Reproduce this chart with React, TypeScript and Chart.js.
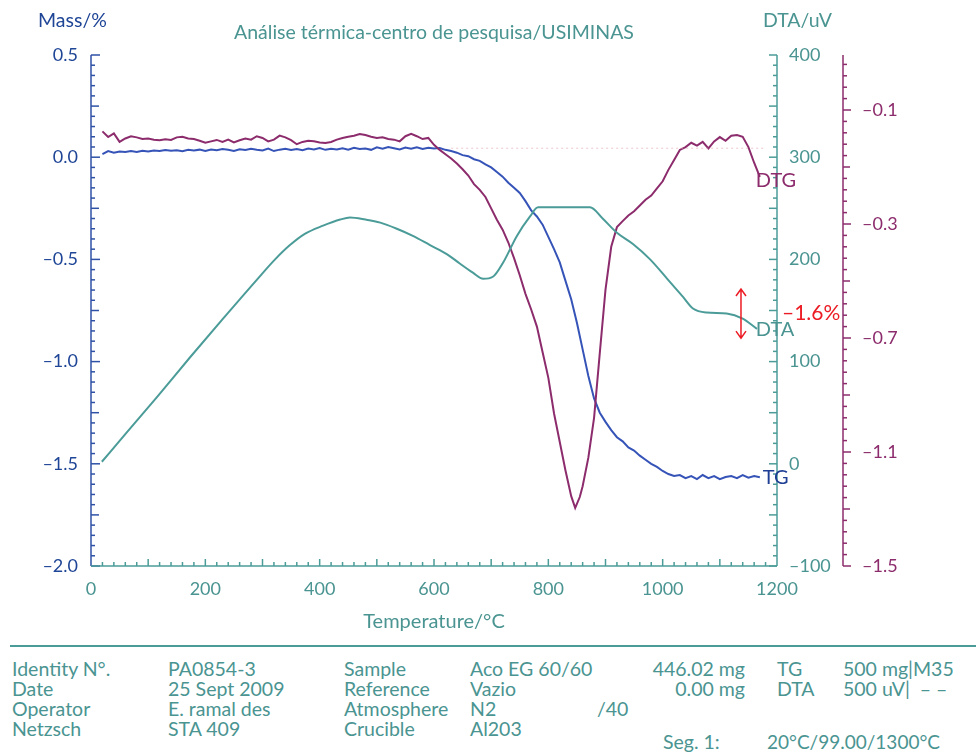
import React, { useEffect, useRef } from "react";
import { Chart, registerables } from "chart.js";

Chart.register(...registerables);

const FONT = "Lato, 'Open Sans', sans-serif";
const BLUE_TEXT = "#1f4596";
const BLUE_AXIS = "#2f52a6";
const TG_COLOR = "#3654b8";
const TEAL = "#4b9c98";
const TEAL_TEXT = "#4a9491";
const PURPLE = "#8c2c6c";
const RED = "#ec1c24";

// ---------- data ----------
const tgTemp = [
  20, 30, 40, 50, 60, 70, 80, 90, 100, 110, 120, 130, 140, 150, 160, 170, 180, 190, 200,
  210, 220, 230, 240, 250, 260, 270, 280, 290, 300, 310, 320, 330, 340, 350, 360, 370, 380,
  390, 400, 410, 420, 430, 440, 450, 460, 470, 480, 490, 500, 510, 520, 530, 540, 550, 560,
  570, 580, 590, 600, 610, 620, 630, 640, 650, 660, 670, 680, 690, 700, 710, 720, 730, 740,
  750, 760, 770, 780, 790, 800, 810, 820, 830, 840, 850, 860, 870, 880, 890, 900, 910, 920,
  930, 940, 950, 960, 970, 980, 990, 1000, 1010, 1020, 1030, 1040, 1050, 1060, 1070, 1080,
  1090, 1100, 1110, 1120, 1130, 1140, 1150, 1160, 1170,
];
const tgMass = [
  0.015, 0.03, 0.022, 0.028, 0.025, 0.03, 0.026, 0.032, 0.028, 0.033, 0.03, 0.035, 0.031,
  0.034, 0.029, 0.036, 0.033, 0.037, 0.031, 0.038, 0.034, 0.04, 0.036, 0.03, 0.039, 0.035,
  0.041, 0.036, 0.033, 0.042, 0.03, 0.037, 0.041, 0.035, 0.04, 0.034, 0.042, 0.038, 0.045,
  0.036, 0.041, 0.038, 0.044, 0.037, 0.046, 0.04, 0.043, 0.036, 0.048, 0.041, 0.05, 0.044,
  0.038, 0.047, 0.042, 0.049, 0.04, 0.046, 0.043, 0.045, 0.036, 0.03, 0.022, 0.01, 0.005,
  -0.01, -0.018, -0.035, -0.05, -0.072, -0.095, -0.125, -0.15, -0.175, -0.215, -0.26, -0.29,
  -0.33, -0.39, -0.45, -0.515, -0.605, -0.695, -0.81, -0.94, -1.07, -1.18, -1.25, -1.295,
  -1.335, -1.37, -1.39, -1.42, -1.435, -1.46, -1.48, -1.5, -1.515, -1.535, -1.55, -1.56,
  -1.555, -1.57, -1.56, -1.575, -1.555, -1.57, -1.56, -1.575, -1.565, -1.56, -1.57, -1.555,
  -1.568, -1.56, -1.566,
];

const dtgTemp = [
  20, 30, 40, 50, 60, 70, 80, 90, 100, 110, 120, 130, 140, 150, 160, 170, 180, 190, 200,
  210, 220, 230, 240, 250, 260, 270, 280, 290, 300, 310, 320, 330, 340, 350, 360, 370, 380,
  390, 400, 410, 420, 430, 440, 450, 460, 470, 480, 490, 500, 510, 520, 530, 540, 550, 560,
  570, 580, 590, 600, 610, 620, 630, 640, 650, 660, 670, 680, 690, 700, 710, 720, 730, 740,
  750, 760, 770, 780, 790, 800, 810, 820, 830, 840, 847, 855, 860, 870, 880, 890, 900, 910,
  920, 930, 940, 950, 960, 970, 980, 990, 1000, 1010, 1020, 1030, 1040, 1050, 1060, 1070,
  1080, 1090, 1100, 1110, 1120, 1130, 1140, 1150, 1160, 1170,
];
const dtgValue = [
  0.025, 0.005, 0.018, -0.012, 0.0, 0.008, 0.004, -0.002, 0.0, -0.004, -0.006, -0.003,
  -0.005, 0.004, 0.006, 0.0, -0.002, -0.008, -0.015, -0.01, -0.005, -0.012, -0.004, -0.014,
  -0.006, 0.0, -0.004, 0.008, 0.002, -0.01, -0.004, 0.01, 0.004, -0.006, -0.02, -0.012,
  -0.008, -0.01, -0.014, -0.016, -0.012, -0.004, 0.002, 0.006, 0.01, 0.016, 0.012, 0.006,
  0.002, 0.004, -0.002, -0.004, -0.01, 0.008, 0.016, 0.008, -0.002, 0.002, -0.022, -0.04,
  -0.055, -0.07, -0.088, -0.108, -0.13, -0.16, -0.18, -0.205, -0.245, -0.285, -0.32, -0.365,
  -0.42, -0.48, -0.545, -0.6, -0.66, -0.75, -0.84, -0.965, -1.065, -1.165, -1.255, -1.296,
  -1.258, -1.22, -1.12, -0.98, -0.753, -0.53, -0.38, -0.311, -0.29, -0.27, -0.255, -0.235,
  -0.215, -0.2, -0.175, -0.15, -0.11, -0.075, -0.04, -0.03, -0.015, -0.025, -0.012, -0.035,
  -0.01, 0.005, -0.008, 0.01, 0.012, 0.006, -0.03, -0.085, -0.135,
];

const dtaTemp = [
  19, 60, 115, 173, 231, 290, 322, 348, 374, 406, 436, 453, 480, 506, 535, 563, 593, 623,
  645, 668, 686, 703, 721, 745, 768, 782, 830, 873, 895, 920, 948, 978, 1008, 1036, 1053,
  1077, 1112, 1140, 1165,
];
const dtaValue = [
  2, 29, 65, 104, 142, 180, 200, 214, 225, 233, 239, 241, 239, 236, 230, 223, 214, 205,
  196, 187, 181, 183, 197, 223, 242, 251, 251, 251, 240, 226, 215, 200, 181, 163, 152, 148,
  147, 142, 132,
];

const baselineTemp = [630, 1180];
const baselineMass = [0.044, 0.044];

const xTickValues = [0, 200, 400, 600, 800, 1000, 1200];
const massTickValues = [-2, -1.5, -1, -0.5, 0, 0.5];
const dtaTickValues = [-100, 0, 100, 200, 300, 400];
const dtgTickValues = [-1.5, -1.1, -0.7, -0.3, 0.1];
const dtgTickLabels = ["–1.5", "–1.1", "–0.7", "–0.3", "–0.1"];

const seriesLabels = [
  { text: "DTG", axis: "dtg", x: 1163, y: -0.149, color: PURPLE },
  { text: "TG", axis: "y", x: 1175, y: -1.569, color: "#1f3f94" },
  { text: "DTA", axis: "dta", x: 1163, y: 131, color: TEAL_TEXT },
];
const lossArrow = { x: 1137, from: -0.645, to: -0.885, text: "–1.6%" };

const infoRows = [
  ["Identity N°.", "PA0854-3", "Sample", "Aco EG 60/60"],
  ["Date", "25 Sept 2009", "Reference", "Vazio"],
  ["Operator", "E. ramal des", "Atmosphere", "N2"],
  ["Netzsch", "STA 409", "Crucible", "Al203"],
];

// ---------- plugins ----------
const axesPlugin = {
  id: "customAxes",
  afterDatasetsDraw(chart: any) {
    const { ctx, chartArea: ca, scales } = chart;
    ctx.save();
    ctx.lineWidth = 1.5;
    const seg = (x1: number, y1: number, x2: number, y2: number) => {
      ctx.beginPath();
      ctx.moveTo(x1, y1);
      ctx.lineTo(x2, y2);
      ctx.stroke();
    };
    // left mass axis
    ctx.strokeStyle = BLUE_AXIS;
    seg(ca.left, ca.top, ca.left, ca.bottom);
    for (let i = 0; i <= 50; i++) {
      const p = scales.y.getPixelForValue(-2 + i * 0.05);
      const len = i % 10 === 0 ? 9 : i % 5 === 0 ? 8 : 4;
      seg(ca.left, p, ca.left + len, p);
    }
    // x axis
    ctx.strokeStyle = TEAL;
    seg(ca.left, ca.bottom, ca.right, ca.bottom);
    for (let i = 1; i < 60; i++) {
      const p = scales.x.getPixelForValue(i * 20);
      const len = i % 5 === 0 ? 7 : 4;
      seg(p, ca.bottom, p, ca.bottom - len);
    }
    // DTA axis
    seg(ca.right, ca.top, ca.right, ca.bottom);
    for (let i = 0; i <= 50; i++) {
      const p = scales.dta.getPixelForValue(-100 + i * 10);
      const len = i % 5 === 0 ? 8 : 4;
      seg(ca.right, p, ca.right - len, p);
    }
    // DTG axis
    ctx.strokeStyle = PURPLE;
    const gx = scales.dtg.left;
    seg(gx, ca.top, gx, ca.bottom);
    for (let i = 0; i <= 44; i++) {
      const p = scales.dtg.getPixelForValue(-1.5 + i * 0.04);
      const len = i % 10 === 0 ? 8 : i % 5 === 0 ? 7 : 4;
      seg(gx, p, gx + len, p);
    }
    ctx.restore();
  },
  afterDraw(chart: any) {
    const { ctx, scales } = chart;
    ctx.save();
    ctx.font = `20px ${FONT}`;
    ctx.textBaseline = "middle";
    ctx.textAlign = "left";
    for (const l of seriesLabels) {
      ctx.fillStyle = l.color;
      ctx.fillText(l.text, scales.x.getPixelForValue(l.x), scales[l.axis].getPixelForValue(l.y));
    }
    // red arrow
    const ax = scales.x.getPixelForValue(lossArrow.x);
    const y1 = scales.y.getPixelForValue(lossArrow.from);
    const y2 = scales.y.getPixelForValue(lossArrow.to);
    ctx.strokeStyle = RED;
    ctx.lineWidth = 1.5;
    ctx.beginPath();
    ctx.moveTo(ax, y1);
    ctx.lineTo(ax, y2);
    ctx.moveTo(ax - 5, y1 + 7);
    ctx.lineTo(ax, y1);
    ctx.lineTo(ax + 5, y1 + 7);
    ctx.moveTo(ax - 5, y2 - 7);
    ctx.lineTo(ax, y2);
    ctx.lineTo(ax + 5, y2 - 7);
    ctx.stroke();
    ctx.fillStyle = RED;
    ctx.font = `21px ${FONT}`;
    ctx.fillText(lossArrow.text, ax + 41, (y1 + y2) / 2);
    ctx.restore();
  },
};

const pts = (xs: number[], ys: number[]) => xs.map((x, i) => ({ x, y: ys[i] }));
const minus = (s: string) => s.replace("-", "–");

function ThermalChart() {
  const ref = useRef<HTMLCanvasElement>(null);
  useEffect(() => {
    if (!ref.current) return;
    const tickFont = { family: FONT, size: 18 };
    const chart = new Chart(ref.current, {
      type: "line",
      data: {
        datasets: [
          {
            data: pts(baselineTemp, baselineMass),
            yAxisID: "y",
            borderColor: "rgba(225,160,170,0.6)",
            borderWidth: 1,
            borderDash: [2, 3],
            pointRadius: 0,
          },
          {
            data: pts(dtaTemp, dtaValue),
            yAxisID: "dta",
            borderColor: TEAL,
            borderWidth: 2,
            pointRadius: 0,
            cubicInterpolationMode: "monotone",
          },
          {
            data: pts(dtgTemp, dtgValue),
            yAxisID: "dtg",
            borderColor: PURPLE,
            borderWidth: 2,
            pointRadius: 0,
            tension: 0,
          },
          {
            data: pts(tgTemp, tgMass),
            yAxisID: "y",
            borderColor: TG_COLOR,
            borderWidth: 2,
            pointRadius: 0,
            tension: 0,
          },
        ],
      },
      options: {
        animation: false,
        responsive: true,
        maintainAspectRatio: false,
        layout: { padding: { top: 55, left: 0, right: 0, bottom: 0 } },
        plugins: { legend: { display: false }, tooltip: { enabled: false } },
        scales: {
          x: {
            type: "linear",
            position: "bottom",
            min: 0,
            max: 1200,
            afterBuildTicks: (s: any) => {
              s.ticks = xTickValues.map((v) => ({ value: v }));
            },
            grid: { display: false, drawTicks: false },
            border: { display: false },
            ticks: {
              color: TEAL_TEXT,
              font: tickFont,
              padding: 12,
              autoSkip: false,
              maxRotation: 0,
              callback: (v: any) => String(v),
            },
            title: {
              display: true,
              text: "Temperature/°C",
              color: TEAL_TEXT,
              font: { family: FONT, size: 20 },
              padding: { top: 0, bottom: 6 },
            },
            afterFit: (s: any) => {
              s.height = 74;
            },
          },
          y: {
            type: "linear",
            position: "left",
            min: -2,
            max: 0.5,
            afterBuildTicks: (s: any) => {
              s.ticks = massTickValues.map((v) => ({ value: v }));
            },
            grid: { display: false, drawTicks: false },
            border: { display: false },
            ticks: {
              color: BLUE_TEXT,
              font: tickFont,
              padding: 13,
              autoSkip: false,
              callback: (v: any) => minus(Number(v).toFixed(1)),
            },
            afterFit: (s: any) => {
              s.width = 91;
            },
          },
          dta: {
            type: "linear",
            position: "right",
            weight: 0,
            min: -100,
            max: 400,
            afterBuildTicks: (s: any) => {
              s.ticks = dtaTickValues.map((v) => ({ value: v }));
            },
            grid: { display: false, drawTicks: false },
            border: { display: false },
            ticks: {
              color: TEAL_TEXT,
              font: tickFont,
              padding: 12,
              autoSkip: false,
              callback: (v: any) => minus(String(v)),
            },
            afterFit: (s: any) => {
              s.width = 66;
            },
          },
          dtg: {
            type: "linear",
            position: "right",
            weight: 1,
            min: -1.5,
            max: 0.293,
            afterBuildTicks: (s: any) => {
              s.ticks = dtgTickValues.map((v) => ({ value: v }));
            },
            grid: { display: false, drawTicks: false },
            border: { display: false },
            ticks: {
              color: PURPLE,
              font: tickFont,
              padding: 19,
              autoSkip: false,
              callback: (_v: any, i: number) => dtgTickLabels[i],
            },
            afterFit: (s: any) => {
              s.width = 133;
            },
          },
        },
      } as any,
      plugins: [axesPlugin],
    });
    return () => chart.destroy();
  }, []);
  return <canvas ref={ref} />;
}

const txt = (extra: React.CSSProperties): React.CSSProperties => ({
  position: "absolute",
  whiteSpace: "pre",
  lineHeight: "20px",
  ...extra,
});

export default function App() {
  const rowTops = [659, 679, 699, 719];
  const cols = [12, 168, 344, 470];
  return (
    <div
      style={{
        position: "absolute",
        left: 0,
        top: 0,
        width: 976,
        height: 752,
        background: "#fff",
        overflow: "hidden",
        fontFamily: FONT,
      }}
    >
      <div style={{ position: "absolute", left: 0, top: 0, width: 976, height: 640 }}>
        <ThermalChart />
      </div>
      <div style={txt({ left: 38, top: 10, fontSize: 19.5, color: BLUE_TEXT })}>Mass/%</div>
      <div style={txt({ left: 0, width: 868, top: 22, fontSize: 19.5, color: TEAL_TEXT, textAlign: "center" })}>
        Análise térmica-centro de pesquisa/USIMINAS
      </div>
      <div style={txt({ left: 763, top: 10, fontSize: 19.5, color: TEAL_TEXT })}>DTA/uV</div>

      <div style={{ position: "absolute", left: 10, top: 645, width: 966, height: 2, background: TEAL }} />
      <div style={{ color: TEAL_TEXT, fontSize: 19.5 }}>
        {infoRows.map((row, r) =>
          row.map((cell, c) => (
            <div key={`${r}-${c}`} style={txt({ left: cols[c], top: rowTops[r] })}>
              {cell}
            </div>
          ))
        )}
        <div style={txt({ left: 597, top: rowTops[2] })}>/40</div>
        <div style={txt({ right: 976 - 745, top: rowTops[0], textAlign: "right" })}>446.02 mg</div>
        <div style={txt({ right: 976 - 745, top: rowTops[1], textAlign: "right" })}>0.00 mg</div>
        <div style={txt({ left: 777, top: rowTops[0] })}>TG</div>
        <div style={txt({ left: 777, top: rowTops[1] })}>DTA</div>
        <div style={txt({ left: 843, top: rowTops[0] })}>500 mg|M35</div>
        <div style={txt({ left: 843, top: rowTops[1] })}>500 uV|  – –</div>
        <div style={txt({ left: 663, top: 732 })}>Seg. 1:</div>
        <div style={txt({ left: 767, top: 732, fontSize: 19 })}>20°C/99.00/1300°C</div>
      </div>
    </div>
  );
}
